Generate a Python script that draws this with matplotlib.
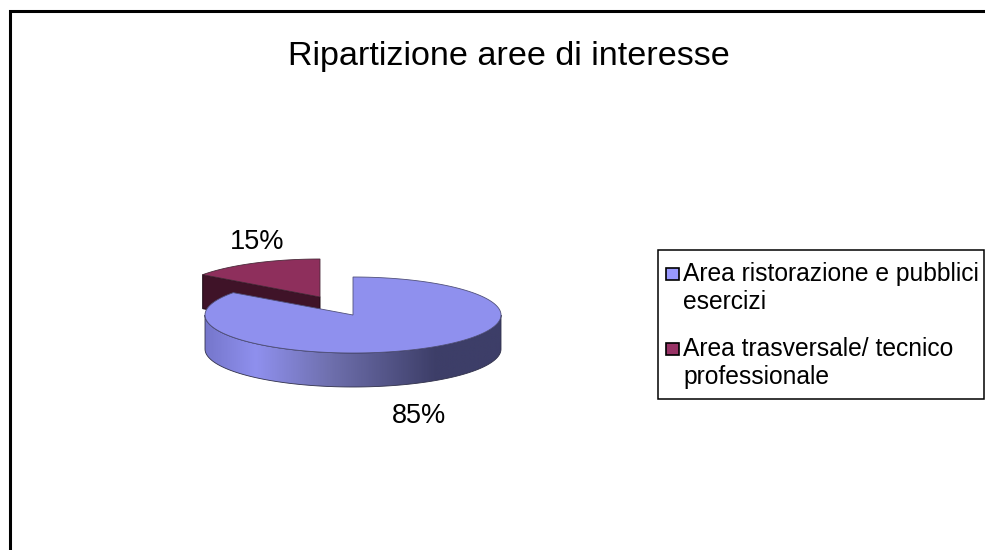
import numpy as np
import matplotlib
matplotlib.use("Agg")
import matplotlib.pyplot as plt
from matplotlib.patches import Polygon, Rectangle
from matplotlib.colors import LinearSegmentedColormap

plt.rcParams['font.family'] = ['Liberation Sans', 'DejaVu Sans']

title = "Ripartizione aree di interesse"
categories = ["Area ristorazione e pubblici\nesercizi", "Area trasversale/ tecnico\nprofessionale"]
shares = [85, 15]
labels = ["85%", "15%"]
top_colors = ["#8f90ee", "#8e2f5c"]
swatch_colors = ["#9999ff", "#993366"]

W, H = 985, 550
fig = plt.figure(figsize=(W / 100, H / 100), dpi=100, facecolor="white")
ax = fig.add_axes([0, 0, 1, 1])
ax.set_xlim(0, W)
ax.set_ylim(H, 0)
ax.axis("off")

RY, DEPTH = 38, 34
RADII = [148, 145]
CENTERS = [(353, 315), (320, 297)]


def arc(cx, cy, rx, a0, a1, n=200):
    t = np.radians(np.linspace(a0, a1, n))
    return np.column_stack([cx + rx * np.cos(t), cy - RY * np.sin(t)])


# slice angles from the data, clockwise from 12 o'clock
total = sum(shares)
a_blue_end = 90 - 360 * shares[0] / total   # equivalent to 144 deg

# --- red slice (drawn first, sits behind) ---
cx, cy = CENTERS[1]
a0, a1 = a_blue_end + 360, 90
arc_r = arc(cx, cy, RADII[1], a0, a1)
tip = arc_r[0]
ax.add_patch(Polygon([tip, (cx, cy), (cx, cy + DEPTH), (tip[0], tip[1] + DEPTH)],
                     closed=True, fc="#3f1328", ec="#1c0812", lw=0.7, zorder=2))
ax.add_patch(Polygon(np.vstack([[(cx, cy)], arc_r]), closed=True,
                     fc=top_colors[1], ec="#4a2a3a", lw=0.6, zorder=3))

# --- blue slice ---
cx, cy = CENTERS[0]
RX = RADII[0]
# side wall with horizontal gradient
front = arc(cx, cy, RX, 180, 360)
wall = np.vstack([front, (front + [0, DEPTH])[::-1]])
cmap = LinearSegmentedColormap.from_list(
    "wall", [(0, "#7677cc"), (0.17, "#8f90ee"), (0.42, "#6f70ae"),
             (0.78, "#3d3e68"), (1, "#3d3e68")])
grad = np.linspace(0, 1, 300).reshape(1, -1)
im = ax.imshow(grad, extent=[cx - RX, cx + RX, cy + RY + DEPTH, cy - RY], cmap=cmap,
               aspect="auto", zorder=4)
clip = Polygon(wall, closed=True, transform=ax.transData)
im.set_clip_path(clip)
ax.set_xlim(0, W)
ax.set_ylim(H, 0)
ax.add_patch(Polygon(wall, closed=True, fc="none", ec="#30304a", lw=0.6, zorder=5))

arc_b = arc(cx, cy, RX, 90, a_blue_end)
ax.add_patch(Polygon(np.vstack([[(cx, cy)], arc_b]), closed=True,
                     fc=top_colors[0], ec="#50507a", lw=0.6, zorder=6))

# --- frame: only the top and left edges are visible ---
ax.plot([9.5, 9.5, W], [H, 10.5, 10.5], color="black", lw=2.2, solid_joinstyle="miter",
        solid_capstyle="butt", zorder=10)

ax.text(509, 57, title, fontsize=24.6, ha="center", va="center", color="black")
ax.text(257, 242, labels[1], fontsize=19.5, ha="center", va="center", color="black")
ax.text(419, 416, labels[0], fontsize=19.5, ha="center", va="center", color="black")

# --- legend ---
ax.add_patch(Rectangle((657.5, 249.5), 326.5, 149.5, fc="white", ec="black", lw=1.1, zorder=7))
for (y_s, y_t, cat, col) in zip((274, 349), (288, 363), categories, swatch_colors):
    ax.add_patch(Rectangle((665.5, y_s - 6), 13, 12, fc=col, ec="black", lw=1.2, zorder=8))
    ax.text(683, y_t, cat, fontsize=17.7, ha="left", va="center", color="black",
            linespacing=1.2, zorder=8)

fig.savefig("out.png", dpi=100, facecolor="white")
